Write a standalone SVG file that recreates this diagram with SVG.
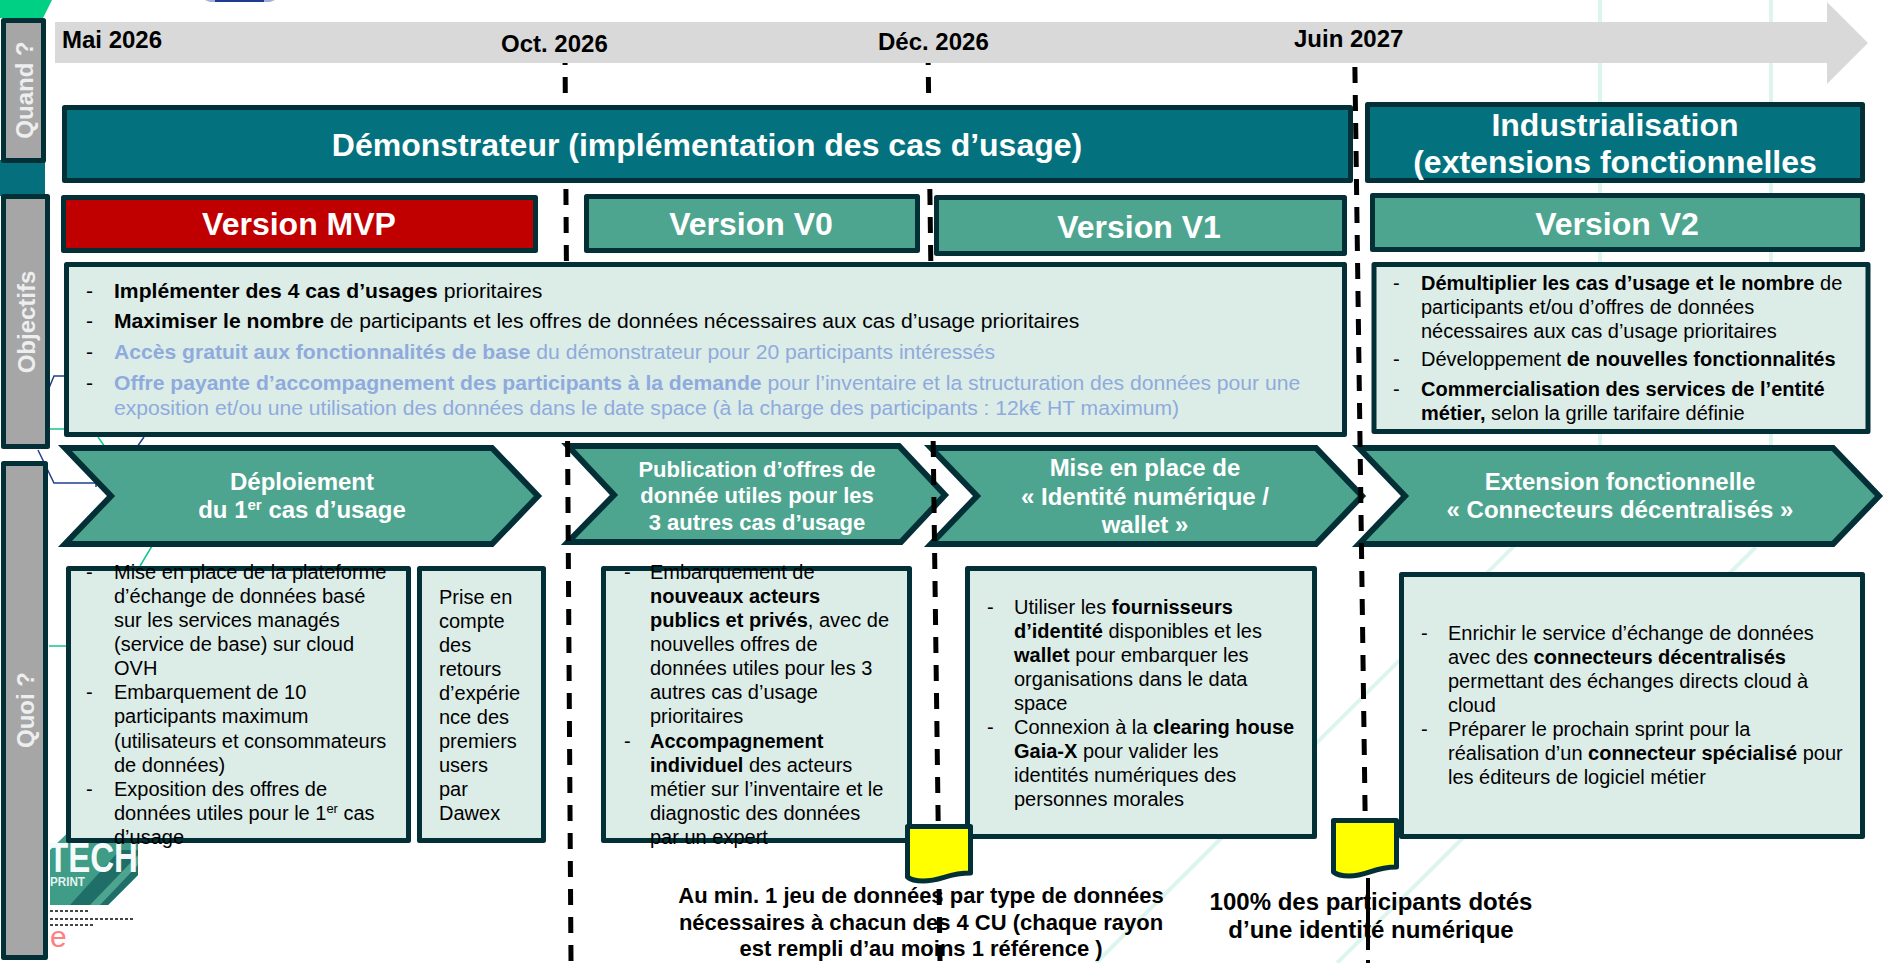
<svg xmlns="http://www.w3.org/2000/svg" width="1884" height="963" viewBox="0 0 1884 963">
<style>
text{font-family:"Liberation Sans",Arial,sans-serif}
.b{font-weight:bold}
.box{fill:#dcede8;stroke:#033036;stroke-width:5;stroke-linejoin:round}
.teal{fill:#04727e;stroke:#033036;stroke-width:5;stroke-linejoin:round}
.grn{fill:#4ea58f;stroke:#033036;stroke-width:6;stroke-linejoin:miter}
.ver{fill:#4ea58f;stroke:#033036;stroke-width:5;stroke-linejoin:round}
.red{fill:#c00000;stroke:#033036;stroke-width:5;stroke-linejoin:round}
.gray{fill:#a6a6a6;stroke:#033036;stroke-width:5;stroke-linejoin:round}
.flag{fill:#ffff00;stroke:#033036;stroke-width:5;stroke-linejoin:round}
.side{font-size:24px;font-weight:bold;fill:#eeeeee;text-anchor:middle}
.date{font-size:24px;font-weight:bold;fill:#000}
.h32{font-size:32px;font-weight:bold;fill:#fff;text-anchor:middle}
.h24{font-size:24px;font-weight:bold;fill:#fff;text-anchor:middle}
.h22{font-size:22px;font-weight:bold;fill:#fff;text-anchor:middle}
.t{font-size:20px;fill:#000}
.t1{font-size:21.12px;fill:#000}
.lb{fill:#8faadc}
.goal{font-size:22px;font-weight:bold;fill:#000;text-anchor:middle}
.goal2{font-size:24px;font-weight:bold;fill:#000;text-anchor:middle}
.pale{stroke:#ddf5ee;stroke-width:4;fill:none}
.thinb{stroke:#1f3f8f;stroke-width:1.5;fill:none}
.thing{stroke:#10c890;stroke-width:1.5;fill:none}
.dash{stroke:#000;stroke-width:5;fill:none;stroke-dasharray:16 12}
</style>

<g id="background">
<path d="M0,0H52L43,18H0Z" fill="#00d084"/>
<rect x="0" y="160" width="45" height="36" fill="#056f7d"/>
<path d="M205,0H275L270,2H210Z" fill="#9fb0d8"/>
<rect x="215" y="0" width="49" height="2" fill="#1f3a93"/>
<path class="pale" d="M1600,0V447M1771,0V447"/>
<path class="pale" d="M1530,530L1096,963M1756,547L1337,963"/>
<path class="thinb" d="M49,388L54,376H66M144,437L137,447M38,450L54,483H96V487"/>
<path class="thing" d="M49,429H66M98,437L105,447M152,546L140,566M49,646H66"/>
</g>

<g id="logo">
<path d="M50,850L88,813H138V875L108,905H50Z" fill="#3f9c86"/>
<path d="M70,905L120,850H138V875L108,905Z" fill="#1f6e68"/>
<path d="M90,905L138,855V865L100,905Z" fill="#4ea58f"/>
<text x="48" y="872" font-size="42" font-weight="bold" fill="#f4fbfa" textLength="90" lengthAdjust="spacingAndGlyphs">TECH</text>
<text x="50" y="886" font-size="12" font-weight="bold" fill="#e4f2ef" textLength="35" lengthAdjust="spacingAndGlyphs">PRINT</text>
<path d="M50,911H90M50,919H133M50,925H95" stroke="#444" stroke-width="2" stroke-dasharray="3 2" fill="none"/>
<text x="50" y="947" font-size="30" fill="#ff8080">e</text>
</g>

<g id="phase-chevrons">
<g id="chevron-deploiement"><path class="grn" d="M65,448H492L538,496L492,544H65L111,496Z"/>
<text class="h24" x="302" y="490">Déploiement</text><text class="h24" x="302" y="518">du 1<tspan font-size="15" dy="-8">er</tspan><tspan dy="8"> cas d’usage</tspan></text></g>
<g id="chevron-publication"><path class="grn" d="M568,446H899L945,495L901,542H568L614,495Z"/>
<text class="h22" x="757" y="477">Publication d’offres de</text><text class="h22" x="757" y="503">donnée utiles pour les</text><text class="h22" x="757" y="530">3 autres cas d’usage</text></g>
<g id="chevron-identite"><path class="grn" d="M931,448H1316L1362,496L1316,544H931L977,496Z"/>
<text class="h24" x="1145" y="476">Mise en place de</text><text class="h24" x="1145" y="505">« Identité numérique /</text><text class="h24" x="1145" y="533">wallet »</text></g>
<g id="chevron-extension"><path class="grn" d="M1359,448H1833L1879,496L1833,544H1359L1405,496Z"/>
<text class="h24" x="1620" y="490">Extension fonctionnelle</text><text class="h24" x="1620" y="518">« Connecteurs décentralisés »</text></g>
</g>

<g id="goal-texts">
<text class="goal" x="921" y="903">Au min. 1 jeu de données par type de données</text>
<text class="goal" x="921" y="930">nécessaires à chacun des 4 CU (chaque rayon</text>
<text class="goal" x="921" y="956">est rempli d’au moins 1 référence )</text>
<text class="goal2" x="1371" y="910">100% des participants dotés</text>
<text class="goal2" x="1371" y="938">d’une identité numérique</text>
</g>

<g id="connectors">
<path class="dash" d="M565,49L571,961"/>
<path class="dash" d="M928,49L940,961"/>
<path class="dash" d="M1354.500,39L1366,878"/>
<path d="M1368,878V950M1368,960V963" stroke="#000" stroke-width="4" fill="none"/>
</g>

<g id="timeline">
<path d="M55,22H1827V2L1868,43L1827,84V63H55Z" fill="#d9d9d9"/>
<text class="date" x="62" y="48">Mai 2026</text>
<text class="date" x="501" y="52">Oct. 2026</text>
<text class="date" x="878" y="50">Déc. 2026</text>
<text class="date" x="1294" y="47">Juin 2027</text>
</g>

<g id="quand"><rect class="gray" x="3.500" y="20.500" width="40" height="140"/><text class="side" transform="translate(33,90) rotate(-90)">Quand ?</text></g>
<g id="objectifs"><rect class="gray" x="3.500" y="196.500" width="44" height="250"/><text class="side" transform="translate(35,322) rotate(-90)">Objectifs</text></g>
<g id="quoi"><rect class="gray" x="3.500" y="463.500" width="42" height="494"/><text class="side" transform="translate(34,710) rotate(-90)">Quoi ?</text></g>

<g id="demonstrateur"><rect class="teal" x="64.500" y="107.500" width="1286" height="73"/><text class="h32" x="707" y="156">Démonstrateur (implémentation des cas d’usage)</text></g>
<g id="industrialisation"><rect class="teal" x="1367.500" y="104.500" width="495" height="76"/><text class="h32" x="1615" y="136">Industrialisation</text><text class="h32" x="1615" y="173">(extensions fonctionnelles</text></g>

<g id="version-mvp"><rect class="red" x="63.500" y="197.500" width="472" height="53"/><text class="h32" x="299" y="235">Version MVP</text></g>
<g id="version-v0"><rect class="ver" x="586.500" y="196.500" width="331" height="54"/><text class="h32" x="751" y="235">Version V0</text></g>
<g id="version-v1"><rect class="ver" x="936.500" y="197.500" width="408" height="56"/><text class="h32" x="1139" y="238">Version V1</text></g>
<g id="version-v2"><rect class="ver" x="1372.500" y="195.500" width="490" height="54"/><text class="h32" x="1617" y="235">Version V2</text></g>

<g id="objectifs-demonstrateur"><rect class="box" x="66.500" y="264.500" width="1278" height="170"/>
<text class="t1"><tspan x="86" y="298">-</tspan><tspan x="114" class="b">Implémenter des 4 cas d’usages</tspan><tspan> prioritaires</tspan></text>
<text class="t1"><tspan x="86" y="328">-</tspan><tspan x="114" class="b">Maximiser le nombre</tspan><tspan> de participants et les offres de données nécessaires aux cas d’usage prioritaires</tspan></text>
<text class="t1 lb"><tspan x="86" y="359" fill="#000">-</tspan><tspan x="114" class="b">Accès gratuit aux fonctionnalités de base</tspan><tspan> du démonstrateur pour 20 participants intéressés</tspan></text>
<text class="t1 lb"><tspan x="86" y="390" fill="#000">-</tspan><tspan x="114" class="b">Offre payante d’accompagnement des participants à la demande</tspan><tspan> pour l’inventaire et la structuration des données pour une</tspan></text>
<text class="t1 lb" x="114" y="415">exposition et/ou une utilisation des données dans le date space (à la charge des participants : 12k€ HT maximum)</text>
</g>

<g id="objectifs-industrialisation"><rect class="box" x="1374" y="264.500" width="494" height="167"/>
<text class="t"><tspan x="1393" y="290">-</tspan><tspan x="1421" class="b">Démultiplier les cas d’usage et le nombre</tspan><tspan> de</tspan></text>
<text class="t" x="1421" y="314">participants et/ou d’offres de données</text>
<text class="t" x="1421" y="338">nécessaires aux cas d’usage prioritaires</text>
<text class="t"><tspan x="1393" y="366">-</tspan><tspan x="1421">Développement </tspan><tspan class="b">de nouvelles fonctionnalités</tspan></text>
<text class="t"><tspan x="1393" y="396">-</tspan><tspan x="1421" class="b">Commercialisation des services de l’entité</tspan></text>
<text class="t"><tspan x="1421" y="420" class="b">métier,</tspan><tspan> selon la grille tarifaire définie</tspan></text>
</g>

<g id="box-deploiement"><rect class="box" x="68.500" y="568.500" width="340" height="272"/>
<text class="t"><tspan x="86" y="579">-</tspan><tspan x="114">Mise en place de la plateforme</tspan></text>
<text class="t" x="114" y="603">d’échange de données basé</text>
<text class="t" x="114" y="627">sur les services managés</text>
<text class="t" x="114" y="651">(service de base) sur cloud</text>
<text class="t" x="114" y="675">OVH</text>
<text class="t"><tspan x="86" y="699">-</tspan><tspan x="114">Embarquement de 10</tspan></text>
<text class="t" x="114" y="723">participants maximum</text>
<text class="t" x="114" y="748">(utilisateurs et consommateurs</text>
<text class="t" x="114" y="772">de données)</text>
<text class="t"><tspan x="86" y="796">-</tspan><tspan x="114">Exposition des offres de</tspan></text>
<text class="t" x="114" y="820">données utiles pour le 1<tspan font-size="13" dy="-7">er</tspan><tspan dy="7"> cas</tspan></text>
<text class="t" x="114" y="844">d’usage</text>
</g>

<g id="box-retours"><rect class="box" x="419.500" y="568.500" width="124" height="272"/>
<text class="t" x="439" y="604">Prise en</text>
<text class="t" x="439" y="628">compte</text>
<text class="t" x="439" y="652">des</text>
<text class="t" x="439" y="676">retours</text>
<text class="t" x="439" y="700">d’expérie</text>
<text class="t" x="439" y="724">nce des</text>
<text class="t" x="439" y="748">premiers</text>
<text class="t" x="439" y="772">users</text>
<text class="t" x="439" y="796">par</text>
<text class="t" x="439" y="820">Dawex</text>
</g>

<g id="box-publication"><rect class="box" x="603.500" y="568.500" width="306" height="272"/>
<text class="t"><tspan x="624" y="579">-</tspan><tspan x="650">Embarquement de</tspan></text>
<text class="t b" x="650" y="603">nouveaux acteurs</text>
<text class="t" x="650" y="627"><tspan class="b">publics et privés</tspan>, avec de</text>
<text class="t" x="650" y="651">nouvelles offres de</text>
<text class="t" x="650" y="675">données utiles pour les 3</text>
<text class="t" x="650" y="699">autres cas d’usage</text>
<text class="t" x="650" y="723">prioritaires</text>
<text class="t"><tspan x="624" y="748">-</tspan><tspan x="650" class="b">Accompagnement</tspan></text>
<text class="t" x="650" y="772"><tspan class="b">individuel</tspan> des acteurs</text>
<text class="t" x="650" y="796">métier sur l’inventaire et le</text>
<text class="t" x="650" y="820">diagnostic des données</text>
<text class="t" x="650" y="844">par un expert</text>
</g>

<g id="box-identite"><rect class="box" x="967.500" y="568.500" width="347" height="268"/>
<text class="t"><tspan x="987" y="614">-</tspan><tspan x="1014">Utiliser les </tspan><tspan class="b">fournisseurs</tspan></text>
<text class="t" x="1014" y="638"><tspan class="b">d’identité</tspan> disponibles et les</text>
<text class="t" x="1014" y="662"><tspan class="b">wallet</tspan> pour embarquer les</text>
<text class="t" x="1014" y="686">organisations dans le data</text>
<text class="t" x="1014" y="710">space</text>
<text class="t"><tspan x="987" y="734">-</tspan><tspan x="1014">Connexion à la </tspan><tspan class="b">clearing house</tspan></text>
<text class="t" x="1014" y="758"><tspan class="b">Gaia-X</tspan> pour valider les</text>
<text class="t" x="1014" y="782">identités numériques des</text>
<text class="t" x="1014" y="806">personnes morales</text>
</g>

<g id="box-extension"><rect class="box" x="1401.500" y="574.500" width="461" height="262"/>
<text class="t"><tspan x="1421" y="640">-</tspan><tspan x="1448">Enrichir le service d’échange de données</tspan></text>
<text class="t" x="1448" y="664">avec des <tspan class="b">connecteurs décentralisés</tspan></text>
<text class="t" x="1448" y="688">permettant des échanges directs cloud à</text>
<text class="t" x="1448" y="712">cloud</text>
<text class="t"><tspan x="1421" y="736">-</tspan><tspan x="1448">Préparer le prochain sprint pour la</tspan></text>
<text class="t" x="1448" y="760">réalisation d’un <tspan class="b">connecteur spécialisé</tspan> pour</text>
<text class="t" x="1448" y="784">les éditeurs de logiciel métier</text>
</g>

<g id="flag-1"><path class="flag" d="M907.500,826.500H970.500V873C947,873 942,881 923,881C916,881 911,880 907.500,877Z"/></g>
<g id="flag-2"><path class="flag" d="M1333.500,820.500H1396.500V867C1373,867 1368,876 1349,876C1342,876 1337,875 1333.500,872Z"/></g>
</svg>
